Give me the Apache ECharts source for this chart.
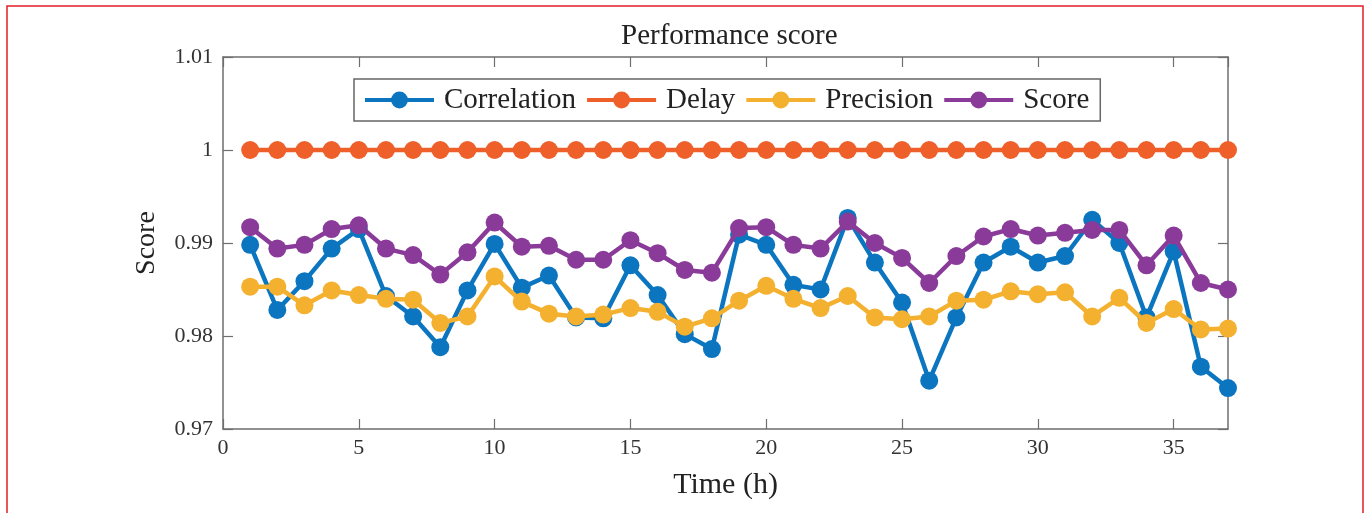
<!DOCTYPE html>
<html>
<head>
<meta charset="utf-8">
<script src="https://cdn.jsdelivr.net/npm/echarts@6/dist/echarts.min.js"></script>
<style>
  html, body { margin: 0; padding: 0; background: #fff; }
  #chart { width: 1366px; height: 513px; }
</style>
</head>
<body>
<div id="chart"></div>
<script>
// Hourly performance measures
const hours = [1, 2, 3, 4, 5, 6, 7, 8, 9, 10, 11, 12, 13, 14, 15, 16, 17, 18, 19,
               20, 21, 22, 23, 24, 25, 26, 27, 28, 29, 30, 31, 32, 33, 34, 35, 36, 37];

const correlation = [0.9898, 0.9828, 0.9859, 0.9894, 0.9915, 0.9843, 0.9821, 0.9788, 0.9849,
                     0.9899, 0.9852, 0.9865, 0.9820, 0.9819, 0.9876, 0.9844, 0.9802, 0.9786,
                     0.9909, 0.9898, 0.9855, 0.9850, 0.9927, 0.9879, 0.9836, 0.9752, 0.9820,
                     0.9879, 0.9896, 0.9879, 0.9886, 0.9925, 0.9900, 0.9820, 0.9891, 0.9767,
                     0.9744];

const delay = [1, 1, 1, 1, 1, 1, 1, 1, 1, 1, 1, 1, 1, 1, 1, 1, 1, 1, 1,
               1, 1, 1, 1, 1, 1, 1, 1, 1, 1, 1, 1, 1, 1, 1, 1, 1, 1];

const precision = [0.9853, 0.9853, 0.9833, 0.9849, 0.9844, 0.9840, 0.9839, 0.9814, 0.9821,
                   0.9864, 0.9837, 0.9824, 0.9821, 0.9823, 0.9830, 0.9826, 0.9810, 0.9819,
                   0.9838, 0.9854, 0.9840, 0.9830, 0.9843, 0.9820, 0.9818, 0.9821, 0.9838,
                   0.9839, 0.9848, 0.9845, 0.9847, 0.9821, 0.9841, 0.9814, 0.9829, 0.9807,
                   0.9808];

const score = [0.9917, 0.9894, 0.9898, 0.9915, 0.9919, 0.9894, 0.9887, 0.9866, 0.9890,
               0.9922, 0.9896, 0.9897, 0.9882, 0.9882, 0.9903, 0.9889, 0.9871, 0.9868,
               0.9916, 0.9917, 0.9898, 0.9894, 0.9923, 0.9900, 0.9884, 0.9857, 0.9886,
               0.9907, 0.9915, 0.9908, 0.9911, 0.9914, 0.9914, 0.9876, 0.9908, 0.9857,
               0.9850];

const seriesNames = ['Correlation', 'Delay', 'Precision', 'Score'];
const seriesColors = ['#0B75BF', '#EE5F2A', '#F4B02F', '#8A3B99'];
const seriesValues = [correlation, delay, precision, score];

const SERIF = '"Liberation Serif", "Times New Roman", serif';
const AXIS_GREY = '#6e6e6e';

const chart = echarts.init(document.getElementById('chart'), null, { renderer: 'canvas' });

// shared look of the four box edges: ticks point into the plot, no grid lines
function boxAxis(extra) {
  return Object.assign({
    axisLine: { show: true, onZero: false, lineStyle: { color: AXIS_GREY, width: 1.5 } },
    axisTick: { show: true, inside: true, length: 10, lineStyle: { color: AXIS_GREY, width: 1.2 } },
    splitLine: { show: false }
  }, extra);
}

const option = {
  animation: false,
  backgroundColor: '#ffffff',
  title: {
    text: 'Performance score',
    left: 621,
    top: 22,
    padding: 0,
    textStyle: { fontFamily: SERIF, fontSize: 29, fontWeight: 'normal', color: '#222' }
  },
  legend: {
    data: seriesNames,
    left: 354,
    top: 79,
    orient: 'horizontal',
    padding: [6, 11, 6, 9],
    itemWidth: 69,
    itemHeight: 21,
    itemGap: 9,
    borderColor: '#666',
    borderWidth: 1.5,
    backgroundColor: '#fff',
    lineStyle: { width: 4 },
    textStyle: { fontFamily: SERIF, fontSize: 29, color: '#222', lineHeight: 30, padding: [0, 0, 0, 5] }
  },
  grid: { left: 223, right: 138, top: 57, bottom: 84, containLabel: false, outerBoundsMode: 'none' },
  xAxis: [
    boxAxis({
      type: 'value', position: 'bottom', min: 0, max: 37, interval: 5,
      name: 'Time (h)', nameLocation: 'middle', nameGap: 41,
      nameTextStyle: { fontFamily: SERIF, fontSize: 30, color: '#222' },
      axisLabel: { fontFamily: SERIF, fontSize: 22, color: '#333', margin: 8, showMaxLabel: false }
    }),
    boxAxis({
      type: 'value', position: 'top', min: 0, max: 37, interval: 5,
      axisLabel: { show: false }
    })
  ],
  yAxis: [
    boxAxis({
      type: 'value', position: 'left', min: 0.97, max: 1.01, interval: 0.01,
      name: 'Score', nameLocation: 'middle', nameGap: 62,
      nameTextStyle: { fontFamily: SERIF, fontSize: 28, color: '#222' },
      axisLabel: { fontFamily: SERIF, fontSize: 22, color: '#333', margin: 10 }
    }),
    boxAxis({
      type: 'value', position: 'right', min: 0.97, max: 1.01, interval: 0.01,
      axisLabel: { show: false }
    })
  ],
  series: seriesNames.map((name, i) => ({
    name: name,
    type: 'line',
    xAxisIndex: 0,
    yAxisIndex: 0,
    data: hours.map((h, k) => [h, seriesValues[i][k]]),
    symbol: 'circle',
    symbolSize: 18,
    showSymbol: true,
    color: seriesColors[i],
    lineStyle: { width: 4.5, color: seriesColors[i] },
    itemStyle: { color: seriesColors[i] },
    emphasis: { disabled: true },
    z: 2 + i
  })),
  graphic: [
    {
      type: 'rect',
      silent: true,
      shape: { x: 7, y: 6, width: 1356, height: 530 },
      style: { fill: 'none', stroke: '#E41E26', lineWidth: 1.5 }
    }
  ]
};

chart.setOption(option);
</script>
</body>
</html>
